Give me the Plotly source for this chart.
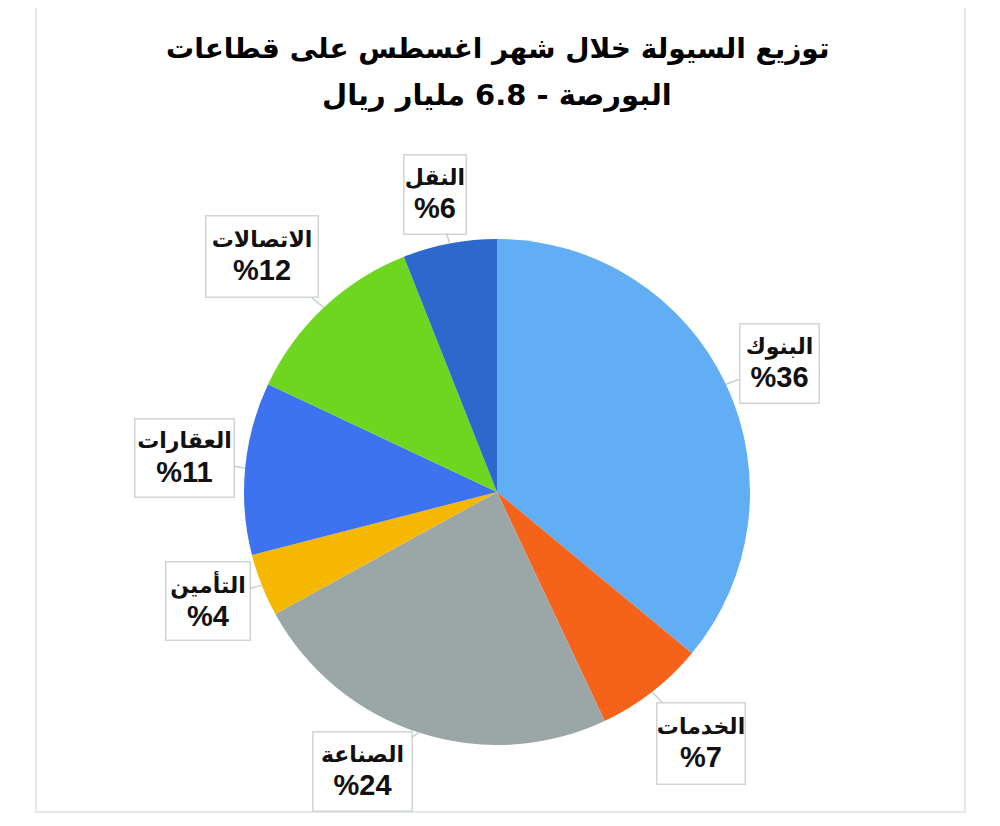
import math
import plotly.graph_objects as go

sectors = ["البنوك", "الخدمات", "الصناعة", "التأمين", "العقارات", "الاتصالات", "النقل"]
shares = [36, 7, 24, 4, 11, 12, 6]
colors = ["#62aef4", "#f5621a", "#9ba6a6", "#f5b700", "#3d72f0", "#6ed61f", "#2f68cc"]
title_lines = ["توزيع السيولة خلال شهر اغسطس على قطاعات", "البورصة - 6.8 مليار ريال"]

OFF = 8                      # page body margin
W, H = 1000 - OFF, 826 - OFF  # figure size
CX, CY, R = 497 - OFF, 492 - OFF, 253  # pie centre / radius in figure pixels

# label box centres (page px) and sizes
box_centres = [(779, 364), (701, 743), (362, 771), (208, 601), (184, 458), (262, 257), (435, 194)]
box_sizes = [(78, 78), (87, 80), (98, 78), (83, 77), (98, 77), (111, 80), (61, 78)]

fig = go.Figure()
fig.add_trace(go.Pie(
    labels=sectors, values=shares, sort=False, direction="clockwise", rotation=0,
    marker=dict(colors=colors, line=dict(width=0)),
    textinfo="none", hoverinfo="skip", showlegend=False,
    domain=dict(x=[(CX - R) / W, (CX + R) / W], y=[1 - (CY + R) / H, 1 - (CY - R) / H]),
))

total = sum(shares)
cum = 0
annotations = []
for name, v, (bx, by), (bw, bh) in zip(sectors, shares, box_centres, box_sizes):
    mid = (cum + v / 2) / total * 2 * math.pi
    cum += v
    tx = CX + R * math.sin(mid)
    ty = CY - R * math.cos(mid)
    annotations.append(dict(
        x=tx / W, y=1 - ty / H, xref="paper", yref="paper",
        ax=(bx - OFF) - tx, ay=(by - OFF) - ty, axref="pixel", ayref="pixel",
        showarrow=True, arrowhead=0, arrowwidth=1.5, arrowcolor="#c9cece", standoff=0,
        text=(f"<span style='font-size:22px'><b>{name}</b></span><br>"
              f"<span style='font-size:29px'><b>%{v}</b></span>"),
        font=dict(family="Liberation Sans, DejaVu Sans", size=26, color="#111"),
        bgcolor="white", bordercolor="#cfd4d4", borderwidth=1.5, borderpad=0,
        width=bw, height=bh, align="center", valign="middle",
    ))

for line, yc, fs in zip(title_lines, [48, 95], [28, 29]):
    annotations.append(dict(
        x=(497 - OFF) / W, y=1 - (yc - OFF) / H, xref="paper", yref="paper",
        xanchor="center", yanchor="middle", showarrow=False,
        text=f"<b>{line}</b>", font=dict(family="DejaVu Sans", size=fs, color="black"),
    ))

fig.update_layout(
    width=W, height=H, margin=dict(l=0, r=0, t=0, b=0),
    paper_bgcolor="white", plot_bgcolor="white",
    annotations=annotations,
    shapes=[dict(type="rect", xref="paper", yref="paper", x0=(36 - OFF) / W, x1=(965 - OFF) / W,
                 y0=1 - (812 - OFF) / H, y1=1 - (3 - OFF) / H, line=dict(color="#dde2e2", width=1.5))],
)
fig.write_html("out.html")
